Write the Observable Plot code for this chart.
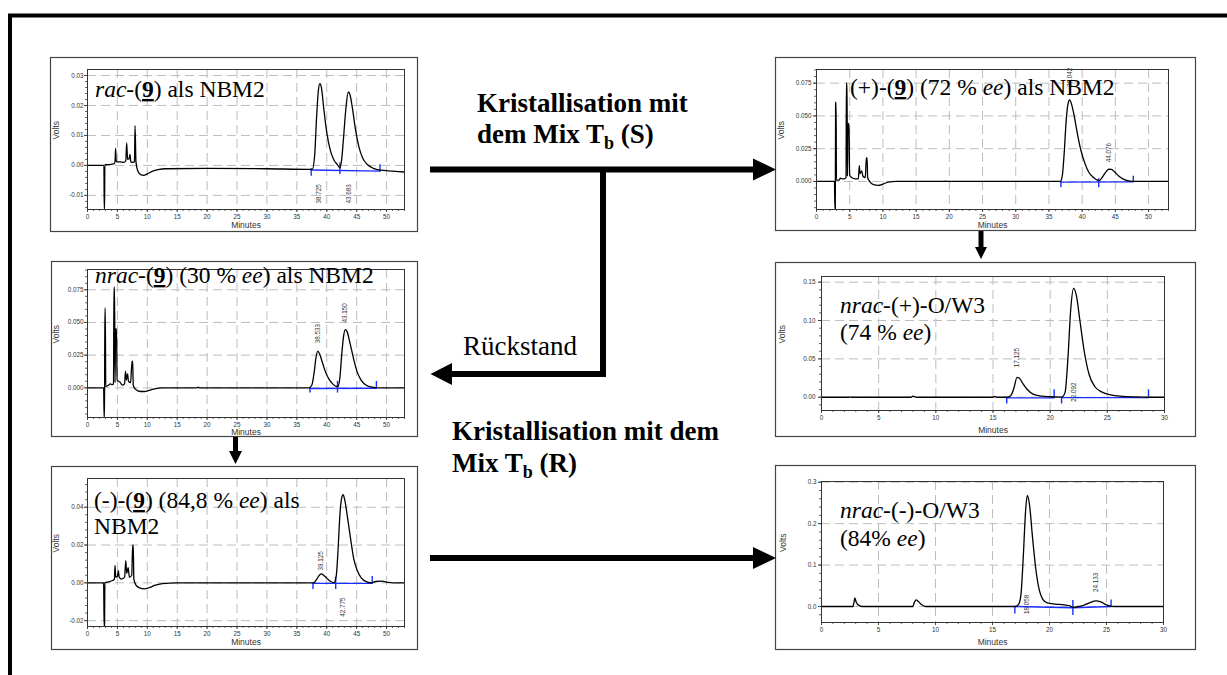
<!DOCTYPE html>
<html><head><meta charset="utf-8">
<script src="https://cdn.jsdelivr.net/npm/d3@7"></script>
<script src="https://cdn.jsdelivr.net/npm/@observablehq/plot@0.6"></script>
<style>
html,body{margin:0;padding:0;background:#fff;}
#page{position:relative;width:1227px;height:675px;overflow:hidden;background:#fff;}
</style></head><body><div id="page"></div>
<script>
// ---------- data ----------
// chromatogram traces: [minutes, volts]
const p1Trace = [[0,0],[2.6,0],[2.75,0],[2.8,-0.0147],[2.85,-0.0147],[2.9,0.0003],[3.5,0.0003],[4.4,0.0005],[4.6,0.0012],[4.7,0.0057],[4.8,0.0015],[5.0,0.0012],[5.5,0.0012],[6.0,0.001],[6.4,0.0015],[6.55,0.0075],[6.7,0.002],[6.95,0.0022],[7.1,0.0037],[7.25,0.0012],[7.6,0.001],[7.85,0.0012],[7.95,0.0133],[8.1,0.0012],[8.4,-0.0018],[8.9,-0.0031],[9.4,-0.0033],[10.0,-0.0028],[10.8,-0.002],[11.8,-0.0014],[13,-0.0011],[20,-0.001],[30,-0.0011],[37,-0.0013],[37.6,-0.0012],[38.0,0.004],[38.3,0.016],[38.6,0.025],[38.85,0.0273],[39.1,0.026],[39.5,0.019],[40.0,0.011],[40.6,0.005],[41.2,0.0018],[41.8,0.0002],[42.2,-0.0008],[42.5,0.002],[42.8,0.009],[43.2,0.019],[43.6,0.0245],[43.9,0.0235],[44.3,0.019],[44.8,0.012],[45.4,0.006],[46.0,0.0025],[46.8,0.0003],[47.8,-0.001],[49,-0.0016],[51,-0.0019],[53,-0.0022]];
const p2Trace = [[0,0],[2.7,0],[2.78,-0.0214],[2.83,-0.0214],[2.88,0.06],[2.95,0.0605],[3.0,0.001],[3.4,0.001],[3.6,0.0025],[3.9,0.002],[4.2,0.002],[4.45,0.003],[4.5,0.075],[4.6,0.075],[4.65,0.004],[4.75,0.044],[4.9,0.044],[4.98,0.005],[5.3,0.003],[5.8,0.002],[6.3,0.002],[6.45,0.012],[6.55,0.006],[6.8,0.008],[7.0,0.004],[7.35,0.003],[7.5,0.018],[7.62,0.018],[7.7,0.003],[8.0,0],[8.6,-0.0025],[9.3,-0.003],[10.0,-0.002],[10.8,-0.0005],[12,0],[19.3,0],[19.4,0.0004],[19.5,0],[30,0],[36.7,0],[37.0,0.004],[37.3,0.022],[37.6,0.047],[37.9,0.06],[38.1,0.0622],[38.4,0.059],[38.8,0.05],[39.3,0.036],[39.8,0.024],[40.4,0.014],[41.0,0.007],[41.7,0.003],[42.3,0.001],[42.6,0.0008],[43.0,0.003],[43.5,0.0068],[44.0,0.0093],[44.4,0.0092],[44.9,0.0072],[45.5,0.0042],[46.2,0.0018],[47,0.0005],[48,0],[53,0]];
const p3Trace = [[0,0],[2.7,0],[2.78,-0.0227],[2.85,-0.0227],[2.9,0.061],[2.97,0.061],[3.05,0.001],[3.5,0.002],[3.8,0.003],[4.1,0.0025],[4.35,0.003],[4.42,0.077],[4.52,0.077],[4.6,0.004],[4.7,0.045],[4.85,0.045],[4.95,0.006],[5.2,0.005],[5.5,0.004],[5.8,0.002],[6.2,0.003],[6.35,0.0125],[6.5,0.006],[6.7,0.0107],[6.85,0.005],[7.2,0.004],[7.45,0.0204],[7.55,0.0204],[7.65,0.002],[8.0,-0.001],[8.8,-0.0028],[9.5,-0.0028],[10.3,-0.002],[11.2,-0.0008],[12.5,0],[18.3,0],[18.5,0.0005],[18.7,0],[37,0],[37.5,0.002],[37.9,0.012],[38.2,0.023],[38.5,0.028],[38.8,0.026],[39.3,0.019],[39.8,0.012],[40.4,0.0065],[41.0,0.003],[41.6,0.001],[41.9,0.0012],[42.2,0.008],[42.5,0.025],[42.8,0.039],[43.1,0.0445],[43.4,0.043],[43.9,0.034],[44.5,0.022],[45.1,0.012],[45.8,0.0055],[46.6,0.002],[47.6,0.0005],[48.5,0],[53,0]];
const p4Trace = [[0,0],[2.4,0],[2.5,0.0005],[2.6,0],[7.8,0],[8.0,0.0015],[8.3,0],[15,0],[15.15,0.0012],[15.3,0],[16.3,0],[16.6,0.003],[16.85,0.013],[17.1,0.026],[17.3,0.025],[17.6,0.018],[18.0,0.01],[18.5,0.004],[19.2,0.0015],[20,0.0006],[21.0,0.0002],[21.3,0.006],[21.55,0.05],[21.8,0.115],[22.05,0.142],[22.3,0.132],[22.6,0.1],[23.0,0.058],[23.4,0.03],[23.9,0.014],[24.5,0.007],[25.3,0.003],[26.3,0.0012],[27.5,0.0004],[28.6,0],[30,0]];
const p5Trace = [[0,0],[2.7,0],[2.78,-0.0231],[2.85,-0.0231],[2.9,0],[3.5,0.0005],[4.2,0.0012],[4.5,0.002],[4.6,0.0092],[4.72,0.003],[5.0,0.0035],[5.15,0.0065],[5.3,0.003],[5.7,0.002],[6.2,0.003],[6.4,0.0118],[6.55,0.005],[6.8,0.008],[7.0,0.003],[7.4,0.004],[7.55,0.02],[7.65,0.02],[7.75,0.002],[8.1,-0.0012],[8.8,-0.0028],[9.5,-0.0032],[10.3,-0.0026],[11.2,-0.0014],[12.5,-0.0004],[15,0],[35,0],[37.8,0],[38.3,0.0018],[38.8,0.0042],[39.1,0.0047],[39.5,0.004],[40.0,0.0025],[40.6,0.0008],[41.2,0.0001],[41.6,0.004],[41.9,0.018],[42.2,0.036],[42.5,0.045],[42.75,0.0467],[43.0,0.044],[43.5,0.034],[44.0,0.023],[44.5,0.013],[45.1,0.0065],[45.8,0.0025],[46.6,0.0006],[47.4,0],[48.2,0.0007],[49.2,0.0009],[50.3,0.0002],[51,0],[53,0]];
const p6Trace = [[0,0],[2.75,0],[2.85,0.01],[2.92,0.021],[3.05,0.01],[3.3,0.002],[3.6,0],[8.0,0],[8.15,0.01],[8.3,0.016],[8.5,0.012],[8.8,0.004],[9.1,0],[17.0,0],[17.3,0.006],[17.5,0.03],[17.7,0.12],[17.9,0.23],[18.05,0.268],[18.25,0.245],[18.5,0.17],[18.8,0.09],[19.1,0.04],[19.4,0.018],[19.8,0.009],[20.5,0.006],[21.3,0.004],[21.8,0.0015],[22.05,-0.002],[22.5,0],[23.0,0.003],[23.5,0.009],[24.1,0.0135],[24.5,0.011],[25.0,0.004],[25.4,0.0005],[26,0],[30,0]];

// integration baselines (blue): [minutes, volts, segment]
const p1Base = [[37.4,-0.0015,1],[48.9,-0.0019,1]];
const p2Base = [[36.8,-0.0005,1],[47.7,-0.0003,1]];
const p3Base = [[37.2,-0.0005,1],[48.3,-0.0003,1]];
const p4Base = [[16.2,-0.0008,1],[20.35,-0.0008,1],[21.0,-0.0005,2],[28.6,-0.0005,2]];
const p5Base = [[37.7,-0.0003,1],[47.6,-0.0003,1]];
const p6Base = [[16.96,0,1],[22.05,-0.003,1],[25.4,0,1]];

// integration marks: [minutes, volts top, volts bottom]
const p1Marks = [[37.4,-0.0011,-0.0036],[42.2,0.0008,-0.003],[48.9,0.0002,-0.0022]];
const p2Marks = [[36.8,0,-0.0048],[42.5,0.002,-0.0048],[47.7,0.004,-0.0005]];
const p3Marks = [[37.2,0,-0.004],[41.8,0.005,-0.004],[48.3,0.0048,0]];
const p4Marks = [[16.2,0,-0.0087],[20.35,0.0096,0],[21.0,0,-0.0087],[28.6,0.0096,0]];
const p5Marks = [[37.7,0,-0.0035],[41.5,0.003,-0.0035],[47.6,0.0033,0]];
const p6Marks = [[16.96,0,-0.018],[22.05,0.0145,-0.022],[25.4,0.016,-0.0016]];

// retention-time labels: [minutes, volts at label start, text]
const p1Peaks = [[38.72,-0.0127,"38.725"],[43.65,-0.0127,"43.683"]];
const p2Peaks = [[38.1,0.072,"38.042"],[44.05,0.0147,"44.076"]];
const p3Peaks = [[38.5,0.034,"38.533"],[43.1,0.05,"43.150"]];
const p4Peaks = [[17.12,0.039,"17.125"],[22.05,-0.006,"22.092"]];
const p5Peaks = [[39.1,0.0065,"39.125"],[42.75,-0.018,"42.775"]];
const p6Peaks = [[18.05,-0.018,"18.058"],[24.1,0.035,"24.133"]];

// tick values
const xTicksLong = [0,5,10,15,20,25,30,35,40,45,50];
const xTicksShort = [0,5,10,15,20,25,30];
const p1YTicks = [-0.01,0,0.01,0.02,0.03];
const p2YTicks = [0,0.025,0.05,0.075];
const p3YTicks = [0,0.025,0.05,0.075];
const p4YTicks = [0,0.05,0.10,0.15];
const p5YTicks = [-0.02,0,0.02,0.04];
const p6YTicks = [0,0.1,0.2,0.3];

// ---------- layout ----------
const panels = [
  {trace:p1Trace, base:p1Base, marks:p1Marks, peaks:p1Peaks, xTicks:xTicksLong, xMax:53, yTicks:p1YTicks, yDomain:[-0.0147,0.032], dec:2, yMinorStep:0.002,
   box:[50,57,418,232], frame:[87,69,404,209], voltsDx:-31, minutesDy:18, yPad:1},
  {trace:p2Trace, base:p2Base, marks:p2Marks, peaks:p2Peaks, xTicks:xTicksLong, xMax:53, yTicks:p2YTicks, yDomain:[-0.0214,0.0854], dec:3, yMinorStep:0.005,
   box:[775,57,1196,231], frame:[816,69,1168,209], voltsDx:-35, minutesDy:18, yPad:2},
  {trace:p3Trace, base:p3Base, marks:p3Marks, peaks:p3Peaks, xTicks:xTicksLong, xMax:53, yTicks:p3YTicks, yDomain:[-0.0227,0.0905], dec:3, yMinorStep:0.005,
   box:[51,261,418,437], frame:[87,269,404,417], voltsDx:-31, minutesDy:17, yPad:1},
  {trace:p4Trace, base:p4Base, marks:p4Marks, peaks:p4Peaks, xTicks:xTicksShort, xMax:30, yTicks:p4YTicks, yDomain:[-0.0173,0.1574], dec:2, yMinorStep:0.01,
   box:[775,262,1196,437], frame:[821,276,1164,410], voltsDx:-39, minutesDy:22, yPad:3},
  {trace:p5Trace, base:p5Base, marks:p5Marks, peaks:p5Peaks, xTicks:xTicksLong, xMax:53, yTicks:p5YTicks, yDomain:[-0.0231,0.0552], dec:2, yMinorStep:0.004,
   box:[51,466,418,650], frame:[87,478,404,626], voltsDx:-31, minutesDy:18, yPad:1},
  {trace:p6Trace, base:p6Base, marks:p6Marks, peaks:p6Peaks, xTicks:xTicksShort, xMax:30, yTicks:p6YTicks, yDomain:[-0.0386,0.3017], dec:1, yMinorStep:0.02,
   box:[775,465,1196,650], frame:[821,481,1163,622], voltsDx:-38, minutesDy:22, yPad:2}
];

const page = document.getElementById("page");
const SANS = "'Liberation Sans', Arial, sans-serif";
const SERIF = "'Liberation Serif', 'Times New Roman', serif";
const BLUE = "#1a2cff";

for (const p of panels) {
  const [bx0, by0, bx1, by1] = p.box;
  const [fx0, fy0, fx1, fy1] = p.frame;
  const minorX = d3.range(0, p.xMax + 0.001, 1);
  const minorY = d3.range(Math.ceil(p.yDomain[0] / p.yMinorStep) * p.yMinorStep, p.yDomain[1], p.yMinorStep);
  const svg = Plot.plot({
    width: bx1 - bx0,
    height: by1 - by0,
    marginLeft: fx0 - bx0,
    marginRight: bx1 - fx1,
    marginTop: fy0 - by0,
    marginBottom: by1 - fy1,
    style: {fontFamily: SANS, fontSize: "6.3px", color: "#333", background: "white", overflow: "visible"},
    x: {domain: [0, p.xMax], label: null},
    y: {domain: p.yDomain, label: null},
    marks: [
      Plot.gridX(p.xTicks, {stroke: "#bdbdbd", strokeOpacity: 1, strokeDasharray: "9,5"}),
      Plot.gridY(p.yTicks, {stroke: "#bdbdbd", strokeOpacity: 1, strokeDasharray: "9,5"}),
      Plot.axisX(minorX, {tickSize: 2, text: null, label: null, stroke: "#666"}),
      Plot.axisY(minorY, {tickSize: 2, text: null, label: null, stroke: "#666"}),
      Plot.axisX(p.xTicks, {tickSize: 3, tickPadding: 2, label: null, tickFormat: d => String(d), stroke: "#444"}),
      Plot.axisY(p.yTicks, {tickSize: 3, tickPadding: p.yPad, label: null, tickFormat: d => d.toFixed(p.dec), stroke: "#444"}),
      Plot.line(p.base, {x: d => d[0], y: d => d[1], z: d => d[2], stroke: BLUE, strokeWidth: 1.4}),
      Plot.ruleX(p.marks, {x: d => d[0], y1: d => d[1], y2: d => d[2], stroke: BLUE, strokeWidth: 1.4}),
      Plot.line(p.trace, {x: d => d[0], y: d => d[1], stroke: "#000", strokeWidth: 1.3, curve: "monotone-x", clip: true}),
      Plot.text(p.peaks, {x: d => d[0], y: d => d[1], text: d => d[2], rotate: -90, textAnchor: "start", fill: "#333", fontSize: 6.3}),
      Plot.frame({stroke: "#333", strokeWidth: 1}),
      Plot.text(["Volts"], {frameAnchor: "left", text: d => d, dx: p.voltsDx, rotate: -90, fontSize: 8.5, fill: "#333"}),
      Plot.text(["Minutes"], {frameAnchor: "bottom", text: d => d, dy: p.minutesDy, fontSize: 8.5, fill: "#333"})
    ]
  });
  svg.style.position = "absolute";
  svg.style.left = bx0 + "px";
  svg.style.top = by0 + "px";
  page.appendChild(svg);
}

// ---------- overlay: frame, panel boxes, arrows, labels ----------
function seg(parts) {
  return parts.map(([t, s]) => {
    let a = "";
    if (s.includes("i")) a += ' font-style="italic"';
    if (s.includes("b")) a += ' font-weight="bold"';
    if (s.includes("u")) a += ' text-decoration="underline" style="text-decoration-thickness:2px"';
    return `<tspan${a}>${t}</tspan>`;
  }).join("");
}
const titles = [
  [95, 97, [["rac","i"],["-(",""],["9","bu"],[") als NBM2",""]]],
  [850, 95, [["(+)-(",""],["9","bu"],[") (72 % ",""],["ee","i"],[") als NBM2",""]]],
  [95, 283, [["nrac","i"],["-(",""],["9","bu"],[") (30 % ",""],["ee","i"],[") als NBM2",""]]],
  [840, 313, [["nrac","i"],["-(+)-O/W3",""]]],
  [840, 340, [["(74 % ",""],["ee","i"],[")",""]]],
  [94, 508, [["(-)-(",""],["9","bu"],[") (84,8 % ",""],["ee","i"],[") als",""]]],
  [94, 534, [["NBM2",""]]],
  [840, 518, [["nrac","i"],["-(-)-O/W3",""]]],
  [840, 546, [["(84% ",""],["ee","i"],[")",""]]]
];
let o = `<svg xmlns="http://www.w3.org/2000/svg" width="1227" height="675" style="position:absolute;left:0;top:0;pointer-events:none">`;
o += `<path d="M10,675 V15.5 H1227" fill="none" stroke="#000" stroke-width="4"/>`;
for (const p of panels) {
  const [x0, y0, x1, y1] = p.box;
  o += `<rect x="${x0 + 0.5}" y="${y0 + 0.5}" width="${x1 - x0 - 1}" height="${y1 - y0 - 1}" fill="none" stroke="#444" stroke-width="1.2"/>`;
}
for (const [x, y, parts] of titles) {
  o += `<text x="${x}" y="${y}" font-family="${SERIF}" font-size="23.5" fill="#000">${seg(parts)}</text>`;
}
// flow labels
o += `<g font-family="${SERIF}" font-size="27" fill="#000">`;
o += `<text x="477" y="112" font-weight="bold">Kristallisation mit</text>`;
o += `<text x="477" y="143" font-weight="bold">dem Mix T<tspan font-size="18" dy="6">b</tspan><tspan dy="-6"> (S)</tspan></text>`;
o += `<text x="463" y="355">Rückstand</text>`;
o += `<text x="452" y="440" font-weight="bold">Kristallisation mit dem</text>`;
o += `<text x="452" y="472" font-weight="bold">Mix T<tspan font-size="18" dy="6">b</tspan><tspan dy="-6"> (R)</tspan></text>`;
o += `</g>`;
// arrows
o += `<g stroke="#000" fill="none" stroke-linecap="butt">`;
o += `<path d="M430,169.5 H756" stroke-width="6"/>`;
o += `<path d="M603,167 V374 H450" stroke-width="6"/>`;
o += `<path d="M430,558 H756" stroke-width="6"/>`;
o += `<path d="M981,231 V249" stroke-width="5"/>`;
o += `<path d="M235.5,437 V453" stroke-width="5"/>`;
o += `</g><g fill="#000">`;
o += `<polygon points="753,158.5 776,169.5 753,180.5"/>`;
o += `<polygon points="452,363 430.5,374 452,385"/>`;
o += `<polygon points="753,547 776,558 753,569"/>`;
o += `<polygon points="975,247 981,259 987,247"/>`;
o += `<polygon points="229,451 235.5,464 242,451"/>`;
o += `</g></svg>`;
page.insertAdjacentHTML("beforeend", o);
</script></body></html>
